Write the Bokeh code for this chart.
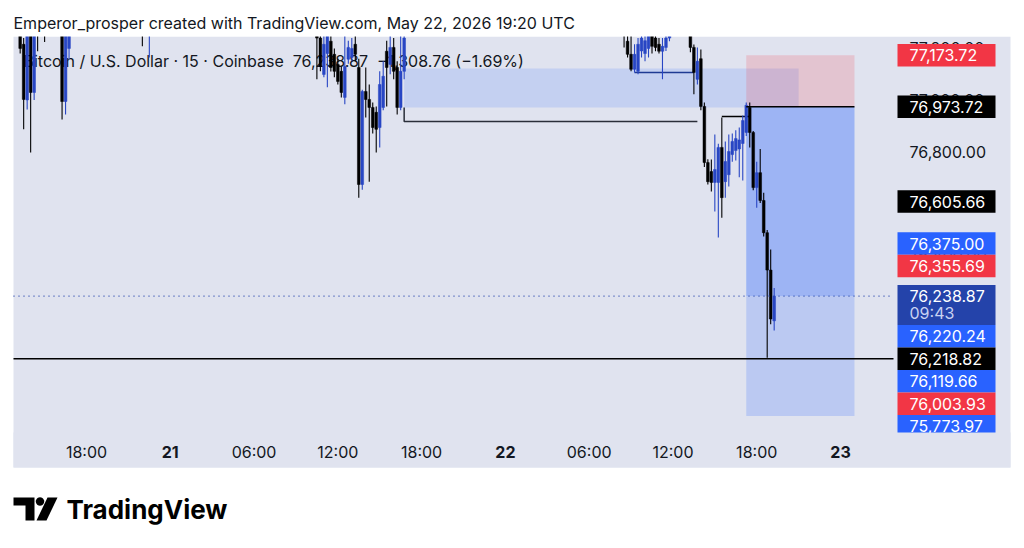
import numpy as np
import pandas as pd
from bokeh.plotting import figure
from bokeh.models import Range1d, ColumnDataSource
from bokeh.core.properties import value
from bokeh.embed import file_html
from bokeh.resources import INLINE

# ---------------- data ----------------
bar_time = [
    # May 20
    "2026-05-20 13:15", "2026-05-20 13:30", "2026-05-20 13:45", "2026-05-20 14:00",
    "2026-05-20 14:15", "2026-05-20 14:30", "2026-05-20 15:00", "2026-05-20 16:15",
    "2026-05-20 16:30", "2026-05-20 16:45", "2026-05-20 22:00", "2026-05-20 22:30",
    # May 21
    "2026-05-21 10:30", "2026-05-21 10:45", "2026-05-21 11:00", "2026-05-21 11:15",
    "2026-05-21 11:30", "2026-05-21 11:45", "2026-05-21 12:00", "2026-05-21 12:15",
    "2026-05-21 12:30", "2026-05-21 12:45", "2026-05-21 13:00", "2026-05-21 13:15",
    "2026-05-21 13:30", "2026-05-21 13:45", "2026-05-21 14:00", "2026-05-21 14:15",
    "2026-05-21 14:30", "2026-05-21 14:45", "2026-05-21 15:00", "2026-05-21 15:15",
    "2026-05-21 15:30", "2026-05-21 15:45", "2026-05-21 16:00", "2026-05-21 16:15",
    "2026-05-21 16:30", "2026-05-21 16:45",
    # May 22 morning
    "2026-05-22 08:30", "2026-05-22 08:45", "2026-05-22 09:00", "2026-05-22 09:15",
    "2026-05-22 09:30", "2026-05-22 09:45", "2026-05-22 10:00", "2026-05-22 10:15",
    "2026-05-22 10:30", "2026-05-22 10:45", "2026-05-22 11:00", "2026-05-22 11:15",
    "2026-05-22 11:30", "2026-05-22 11:45",
    # May 22 afternoon / evening
    "2026-05-22 13:15", "2026-05-22 13:30", "2026-05-22 13:45", "2026-05-22 14:00",
    "2026-05-22 14:15", "2026-05-22 14:30", "2026-05-22 14:45", "2026-05-22 15:00",
    "2026-05-22 15:15", "2026-05-22 15:30", "2026-05-22 15:45", "2026-05-22 16:00",
    "2026-05-22 16:15", "2026-05-22 16:30", "2026-05-22 16:45", "2026-05-22 17:00",
    "2026-05-22 17:15", "2026-05-22 17:30", "2026-05-22 17:45", "2026-05-22 18:00",
    "2026-05-22 18:15", "2026-05-22 18:30", "2026-05-22 18:45", "2026-05-22 19:00",
    "2026-05-22 19:15",
]
bar_open = [
    77280, 77216, 77000, 77270, 77029, 77320, 77300, 77280, 76994, 77200, 77300, 77260,
    77280, 77240, 77099, 77180, 77228, 77177, 77138, 77111, 77010, 77158, 77165, 77216,
    77126, 76672, 77033, 77002, 76971, 76952, 76893, 76971, 77189, 77138, 77204, 77126,
    76971, 77111,
    77300, 77228, 77177, 77119, 77111, 77190, 77180, 77200, 77250, 77240, 77216, 77189,
    77204, 77240,
    77270, 77204, 77080, 77160, 76975, 76757, 76722, 76680, 76680, 76816, 76683, 76710,
    76788, 76804, 76810, 76831, 76874, 76971, 76874, 76660, 76718, 76610, 76485, 76340,
    76143,
]
bar_high = [
    77320, 77240, 77290, 77300, 77310, 77350, 77330, 77320, 77300, 77320, 77340, 77330,
    77320, 77280, 77250, 77290, 77270, 77200, 77160, 77130, 77260, 77230, 77240, 77250,
    77160, 77040, 77126, 77060, 76990, 76975, 77111, 77150, 77230, 77260, 77240, 77150,
    77260, 77280,
    77330, 77260, 77250, 77216, 77240, 77260, 77250, 77270, 77290, 77260, 77240, 77240,
    77260, 77290,
    77300, 77215, 77204, 77196, 76990, 76770, 76769, 76866, 76830, 76932, 76839, 76866,
    76870, 76882, 76893, 76940, 76990, 76990, 76880, 76760, 76810, 76640, 76495, 76420,
    76270,
]
bar_low = [
    77180, 76886, 76963, 76796, 77000, 77189, 77225, 76924, 76944, 77158, 77208, 77165,
    77080, 77111, 77088, 77049, 77110, 77088, 77060, 77010, 76983, 77140, 77150, 77150,
    76621, 76652, 76932, 76683, 76870, 76796, 76816, 76960, 76975, 77100, 77080, 76944,
    76960, 77080,
    77204, 77165, 77111, 77107, 77100, 77165, 77150, 77165, 77180, 77189, 77180, 77080,
    77190, 77228,
    77185, 77022, 77060, 76960, 76740, 76672, 76645, 76567, 76466, 76543, 76621, 76664,
    76760, 76765, 76700, 76687, 76860, 76816, 76650, 76582, 76600, 76470, 76000, 76130,
    76105,
]
bar_close = [
    77200, 77002, 77270, 77029, 77280, 77290, 77260, 76994, 77260, 77280, 77260, 77300,
    77240, 77130, 77216, 77260, 77126, 77111, 77072, 77029, 77130, 77204, 77200, 77177,
    76672, 77033, 77002, 76971, 76893, 76886, 77060, 77092, 77126, 77204, 77111, 76971,
    77111, 77240,
    77260, 77177, 77119, 77177, 77216, 77240, 77230, 77250, 77208, 77204, 77189, 77208,
    77240, 77270,
    77204, 77107, 77150, 76975, 76757, 76683, 76680, 76730, 76816, 76621, 76761, 76800,
    76839, 76850, 76845, 76920, 76979, 76874, 76660, 76718, 76610, 76485, 76340, 76150,
    76238.87,
]

# drawings
zone_start, zone_end = "2026-05-21 16:45", "2026-05-22 21:00"
zone_low, zone_high = 76971, 77122
bracket_time = ["2026-05-21 16:45", "2026-05-21 16:45", "2026-05-22 13:45"]
bracket_price = [76971, 76916, 76916]
navy_line_time = ["2026-05-22 09:15", "2026-05-22 13:30"]
navy_line_price = [77107, 77107]
small_line_time = ["2026-05-22 15:30", "2026-05-22 17:30"]
small_line_price = [76936, 76936]
pos_start, pos_end = "2026-05-22 17:15", "2026-05-23 01:00"
entry_price, stop_price, target_price = 76973.72, 77173.72, 75773.97
last_price = 76238.87
low_line_price = 75996
countdown = "09:43"

# price scale labels
lbl_price = [77173.72, 76973.72, 76605.66, 76375.00, 76355.69, 76238.87,
             76220.24, 76218.82, 76119.66, 76003.93, 75773.97]
lbl_color = ["#f23645", "#000000", "#000000", "#2962ff", "#f23645", "#2443aa",
             "#2962ff", "#000000", "#2962ff", "#f23645", "#2962ff"]
price_ticks = [77200, 77000, 76800, 76600, 76400, 76200, 76000, 75800]

# time axis
time_ticks = ["2026-05-20 18:00", "2026-05-21 00:00", "2026-05-21 06:00", "2026-05-21 12:00",
              "2026-05-21 18:00", "2026-05-22 00:00", "2026-05-22 06:00", "2026-05-22 12:00",
              "2026-05-22 18:00", "2026-05-23 00:00"]
time_labels = ["18:00", "21", "06:00", "12:00", "18:00", "22", "06:00", "12:00", "18:00", "23"]
time_bold = [False, True, False, False, False, True, False, False, False, True]

title_text = "Emperor_prosper created with TradingView.com, May 22, 2026 19:20 UTC"
legend_text = ("Bitcoin / U.S. Dollar · 15 · Coinbase\u00a0\u00a076,238.87\u00a0\u00a0"
               "\u22121,308.76 (\u22121.69%)")
logo_text = "TradingView"

# ---------------- layout (page pixels) ----------------
W, H = 1016, 540
BG = "#e0e3ef"
INK = "#131722"
UP = "#2846c4"
DOWN = "#000000"
FONT = "Inter"
CH_L, CH_T, CH_R, CH_B = 13, 36, 1010, 467     # grey chart area
PANE_R, PANE_B = 893, 432                      # candle pane inside it
LBL_L, LBL_R, LBL_TX = 897, 995, 909           # price-label column
# price scale: 76,800 sits at y=151, 3.88 USD per pixel
P_REF, P_REF_Y, P_PER_PX = 76800.0, 151.0, 3.88
# time scale: 2026-05-20 18:00 sits at x=86, 13.963 px per hour
T_REF, T_REF_X, PX_PER_H = pd.Timestamp("2026-05-20 18:00"), 86.0, 13.963

def to_py(price):
    return P_REF_Y + (P_REF - price) / P_PER_PX

y_top = P_REF + P_REF_Y * P_PER_PX
y_bot = P_REF - (H - P_REF_Y) * P_PER_PX
x_start = T_REF - pd.Timedelta(hours=T_REF_X / PX_PER_H)
x_end = T_REF + pd.Timedelta(hours=(W - T_REF_X) / PX_PER_H)

t = pd.to_datetime(bar_time)
o = np.array(bar_open, float); h = np.array(bar_high, float)
l = np.array(bar_low, float); c = np.array(bar_close, float)
up = c >= o
src = ColumnDataSource(dict(
    t=t, o=o, h=h, l=l, c=c,
    top=np.maximum(o, c), bot=np.minimum(o, c),
    color=[UP if u else DOWN for u in up],
))

p = figure(width=W, height=H, output_backend="svg", toolbar_location=None,
           x_axis_location=None, y_axis_location=None,
           x_range=Range1d(x_start, x_end), y_range=Range1d(y_bot, y_top),
           min_border=0, background_fill_color="white", border_fill_color="white",
           outline_line_color=None)
p.extra_x_ranges = {"px": Range1d(0, W)}
p.extra_y_ranges = {"px": Range1d(H, 0)}
p.xgrid.grid_line_color = None
p.ygrid.grid_line_color = None
PX = dict(x_range_name="px", y_range_name="px")

# grey chart background
p.quad(left=[CH_L], right=[CH_R], top=[CH_T], bottom=[CH_B], fill_color=BG, line_color=None, **PX)

# zone and position tool
p.quad(left=[pd.Timestamp(zone_start)], right=[pd.Timestamp(zone_end)],
       bottom=[zone_low], top=[zone_high], fill_color="#2962ff", fill_alpha=0.15, line_color=None)
p.quad(left=[pd.Timestamp(pos_start)], right=[pd.Timestamp(pos_end)],
       bottom=[entry_price], top=[stop_price], fill_color="#f23645", fill_alpha=0.18, line_color=None)
p.quad(left=[pd.Timestamp(pos_start)], right=[pd.Timestamp(pos_end)],
       bottom=[target_price], top=[entry_price], fill_color="#2962ff", fill_alpha=0.2, line_color=None)
p.quad(left=[pd.Timestamp(pos_start)], right=[pd.Timestamp(pos_end)],
       bottom=[last_price], top=[entry_price], fill_color="#2962ff", fill_alpha=0.2, line_color=None)

# legend text (candles are drawn over it)
p.text(x=[23], y=[60], text=[legend_text], text_font=value(FONT), text_font_size=value("16px"),
       text_color=INK, text_align="left", text_baseline="middle", **PX)

# drawn lines
p.line(pd.to_datetime(bracket_time), bracket_price, line_color="#2a2e39", line_width=1.5)
p.line(pd.to_datetime(navy_line_time), navy_line_price, line_color="#1f3a93", line_width=1.5)
p.line(pd.to_datetime(small_line_time), small_line_price, line_color="#000000", line_width=1.5)

# candles
bar_ms = 15 * 60 * 1000
p.segment(x0="t", y0="l", x1="t", y1="h", source=src, line_color="color", line_width=1.1)
p.vbar(x="t", width=bar_ms * 0.78, top="top", bottom="bot", source=src,
       fill_color="color", line_color="color", line_width=0.5)

p.line([pd.Timestamp(pos_start), pd.Timestamp(pos_end)], [entry_price, entry_price],
       line_color="#000000", line_width=1.5)
p.line([CH_L, PANE_R], [low_line_price, low_line_price], x_range_name="px",
       line_color="#000000", line_width=1.5)
p.line([CH_L, PANE_R], [last_price, last_price], x_range_name="px",
       line_color="#2443aa", line_width=1.2, line_dash="1 4")

# white cover above the chart (candles run off the top) and the header
p.quad(left=[0], right=[W], top=[0], bottom=[CH_T], fill_color="white", line_color=None, **PX)
p.text(x=[CH_L], y=[22], text=[title_text], text_font=value(FONT), text_font_size=value("16px"),
       text_color=INK, text_align="left", text_baseline="middle", **PX)

# price scale tick labels
p.text(x=[LBL_TX] * len(price_ticks), y=[to_py(v) for v in price_ticks],
       text=[f"{v:,.2f}" for v in price_ticks], text_font=value(FONT),
       text_font_size=value("16px"), text_color=INK, text_align="left",
       text_baseline="middle", **PX)

# price scale labels (stacked like the reference)
LBL_H = 22.5
CUR_UP, CUR_DN = 11.0, 29.0
cur_c = to_py(last_price)
centers = {last_price: cur_c}
edge = cur_c - CUR_UP
for v in sorted(x for x in lbl_price if x > last_price):
    cc = min(to_py(v), edge - LBL_H / 2)
    centers[v] = cc
    edge = cc - LBL_H / 2
edge = cur_c + CUR_DN
for v in sorted((x for x in lbl_price if x < last_price), reverse=True):
    cc = max(to_py(v), edge + LBL_H / 2)
    centers[v] = cc
    edge = cc + LBL_H / 2

b_top, b_bot, t_y = [], [], []
for v in lbl_price:
    cc = centers[v]
    if v == last_price:
        b_top.append(cc - CUR_UP); b_bot.append(cc + CUR_DN)
    else:
        b_top.append(cc - LBL_H / 2); b_bot.append(cc + LBL_H / 2)
    t_y.append(cc)
p.quad(left=LBL_L, right=LBL_R, top=b_top, bottom=b_bot, fill_color=lbl_color,
       line_color=None, **PX)
p.text(x=[LBL_TX] * len(lbl_price), y=t_y, text=[f"{v:,.2f}" for v in lbl_price],
       text_font=value(FONT), text_font_size=value("16px"), text_color="white",
       text_align="left", text_baseline="middle", **PX)
p.text(x=[LBL_TX], y=[cur_c + 17], text=[countdown], text_font=value(FONT),
       text_font_size=value("16px"), text_color="#c9d2f2", text_align="left",
       text_baseline="middle", **PX)

# time axis strip (covers overflow of the price labels) and its labels
p.quad(left=[CH_L], right=[CH_R], top=[PANE_B], bottom=[CH_B], fill_color=BG,
       line_color=None, **PX)
p.text(x=[pd.Timestamp(v) for v in time_ticks], y=[451] * len(time_ticks), text=time_labels,
       y_range_name="px", text_font=value(FONT), text_font_size=value("16px"),
       text_font_style=["bold" if b else "normal" for b in time_bold], text_color=INK,
       text_align="center", text_baseline="middle")

# footer logo
ang = np.linspace(0, 2 * np.pi, 20, endpoint=False)
logo_xs = [[13, 34, 34, 25, 25, 13], list(39.5 + 4.2 * np.cos(ang)), [36, 46, 57, 47]]
logo_ys = [[497, 497, 520, 520, 505, 505], list(501 + 4.2 * np.sin(ang)), [520, 520, 497, 497]]
p.patches(xs=logo_xs, ys=logo_ys, fill_color="#000000", line_color=None, **PX)
p.text(x=[66], y=[509], text=[logo_text], text_font=value(FONT), text_font_size=value("26px"),
       text_font_style="bold", text_color="#000000", text_align="left",
       text_baseline="middle", **PX)

open("out.html", "w").write(file_html(p, INLINE))
